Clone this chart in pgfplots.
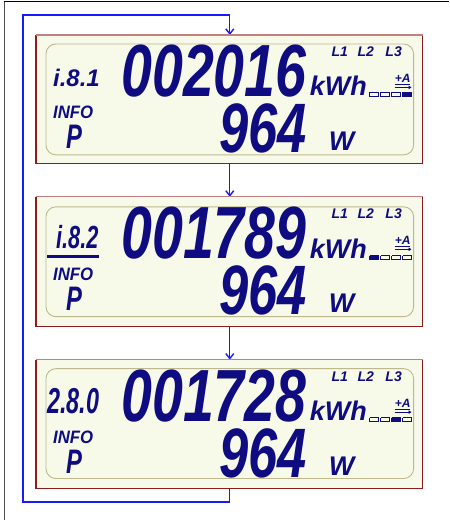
\documentclass[border=0pt]{standalone}
\usepackage{pgfplots}
\pgfplotsset{compat=1.18}
\usepackage{graphicx}
\usepackage{fontspec}
\setmainfont{Liberation Sans}
\usetikzlibrary{arrows.meta}
\definecolor{lcdbg}{RGB}{248,250,233}
\definecolor{lcdink}{RGB}{14,12,128}
\definecolor{loopblue}{RGB}{25,25,255}
\definecolor{boxred}{RGB}{140,28,28}
\definecolor{boxrose}{RGB}{196,128,128}
\definecolor{innerline}{RGB}{190,184,140}
\newcommand\lcd[2]{\fontsize{#1}{#1}\selectfont\bfseries\itshape #2}
\tikzset{ink/.style={anchor=base west,inner sep=0pt,text=lcdink}}
\begin{document}
\begin{tikzpicture}
\begin{axis}[width=449bp,height=520bp,scale only axis,
  xmin=0,xmax=449,ymin=0,ymax=520,y dir=reverse,hide axis,clip=false]
% extent
\addplot[draw=none] coordinates {(0,0) (449,520)};
% page frame
\addplot[black,line width=1bp] coordinates {(4,2) (449,2)};
\addplot[black!70,line width=1bp] coordinates {(4.5,2) (4.5,520)};
% blue loop
\addplot[loopblue,line width=1.4bp,line join=miter] coordinates {(230,489) (230,502.5) (23,502.5) (23,15) (230,15) (230,34)};
\addplot[loopblue,line width=1.4bp,-{Straight Barb[length=5bp,width=8bp]}] coordinates {(230,22) (230,35)};
\addplot[loopblue,line width=1.4bp,-{Straight Barb[length=5bp,width=8bp]}] coordinates {(230,164) (230,197)};
\addplot[loopblue,line width=1.4bp,-{Straight Barb[length=5bp,width=8bp]}] coordinates {(230,327) (230,360)};
% ===== boxes =====
\addplot[fill=lcdbg,draw=boxred,line width=1.2bp] coordinates {(36,35) (423,35) (423,164) (36,164) (36,35)};
\addplot[boxrose,line width=1.2bp] coordinates {(36,35) (423,35)};
\addplot[draw=innerline,line width=0.9bp,rounded corners=10bp] coordinates {(230,44) (414,44) (414,155) (46,155) (46,44) (230,44)};
\addplot[fill=lcdbg,draw=boxred,line width=1.2bp] coordinates {(36,197) (423,197) (423,327) (36,327) (36,197)};
\addplot[boxrose,line width=1.2bp] coordinates {(36,197) (423,197)};
\addplot[draw=innerline,line width=0.9bp,rounded corners=10bp] coordinates {(230,207) (414,207) (414,317) (46,317) (46,207) (230,207)};
\addplot[fill=lcdbg,draw=boxred,line width=1.2bp] coordinates {(36,360) (423,360) (423,489) (36,489) (36,360)};
\addplot[boxrose,line width=1.2bp] coordinates {(36,360) (423,360)};
\addplot[draw=innerline,line width=0.9bp,rounded corners=10bp] coordinates {(230,369) (414,369) (414,479) (46,479) (46,369) (230,369)};
% ===== segment indicators (squares) =====
% box 1: fourth filled
\addplot[draw=lcdink,line width=0.7bp] coordinates {(370,92.5) (379,92.5) (379,96.5) (370,96.5) (370,92.5)};
\addplot[draw=lcdink,line width=0.7bp] coordinates {(381,92.5) (390,92.5) (390,96.5) (381,96.5) (381,92.5)};
\addplot[draw=lcdink,line width=0.7bp] coordinates {(392,92.5) (401,92.5) (401,96.5) (392,96.5) (392,92.5)};
\addplot[draw=lcdink,fill=lcdink,line width=0.7bp] coordinates {(403,92.5) (412,92.5) (412,96.5) (403,96.5) (403,92.5)};
% box 2: first filled
\addplot[draw=lcdink,fill=lcdink,line width=0.7bp] coordinates {(370,256) (379,256) (379,260) (370,260) (370,256)};
\addplot[draw=lcdink,line width=0.7bp] coordinates {(381,256) (390,256) (390,260) (381,260) (381,256)};
\addplot[draw=lcdink,line width=0.7bp] coordinates {(392,256) (401,256) (401,260) (392,260) (392,256)};
\addplot[draw=lcdink,line width=0.7bp] coordinates {(403,256) (412,256) (412,260) (403,260) (403,256)};
% box 3: third filled
\addplot[draw=lcdink,line width=0.7bp] coordinates {(370,418) (379,418) (379,422) (370,422) (370,418)};
\addplot[draw=lcdink,line width=0.7bp] coordinates {(381,418) (390,418) (390,422) (381,422) (381,418)};
\addplot[draw=lcdink,fill=lcdink,line width=0.7bp] coordinates {(392,418) (401,418) (401,422) (392,422) (392,418)};
\addplot[draw=lcdink,line width=0.7bp] coordinates {(403,418) (412,418) (412,422) (403,422) (403,418)};
% +A underline and arrows
\addplot[lcdink,line width=1bp] coordinates {(395,84.5) (410,84.5)};
\addplot[lcdink,line width=1bp,-{Latex[length=3bp,width=4bp]}] coordinates {(395,87.5) (412,87.5)};
\addplot[lcdink,line width=1bp] coordinates {(395,246.5) (410,246.5)};
\addplot[lcdink,line width=1bp,-{Latex[length=3bp,width=4bp]}] coordinates {(395,249.5) (412,249.5)};
\addplot[lcdink,line width=1bp] coordinates {(395,409.5) (410,409.5)};
\addplot[lcdink,line width=1bp,-{Latex[length=3bp,width=4bp]}] coordinates {(395,412.5) (412,412.5)};
% box 2 underline of code
\addplot[lcdink,line width=3bp] coordinates {(47.5,256.5) (99,256.5)};

% ===== texts box 1 =====
\node[ink] at (axis cs:53,87) {\lcd{24bp}{i.8.1}};
\node[ink,anchor=base east] at (axis cs:307,97) {\scalebox{0.75}[1]{\lcd{74bp}{002016}}};
\node[ink] at (axis cs:310,95.5) {\lcd{27bp}{kWh}};
\node[ink,anchor=base] at (axis cs:340,57) {\lcd{14bp}{L1}};
\node[ink,anchor=base] at (axis cs:366,57) {\lcd{14bp}{L2}};
\node[ink,anchor=base] at (axis cs:394,57) {\lcd{14bp}{L3}};
\node[ink,anchor=base] at (axis cs:403,83) {\lcd{12bp}{+A}};
\node[ink] at (axis cs:53,119) {\scalebox{0.93}[1]{\lcd{18bp}{INFO}}};
\node[ink] at (axis cs:66,149) {\scalebox{0.7}[1]{\lcd{34bp}{P}}};
\node[ink,anchor=base east] at (axis cs:307,153) {\scalebox{0.75}[1]{\lcd{70bp}{964}}};
\node[ink] at (axis cs:329,151) {\lcd{27bp}{W}};
% ===== texts box 2 =====
\node[ink] at (axis cs:56,249) {\scalebox{0.68}[1]{\lcd{32bp}{i.8.2}}};
\node[ink,anchor=base east] at (axis cs:307,259) {\scalebox{0.75}[1]{\lcd{74bp}{001789}}};
\node[ink] at (axis cs:310,258.5) {\lcd{27bp}{kWh}};
\node[ink,anchor=base] at (axis cs:340,219) {\lcd{14bp}{L1}};
\node[ink,anchor=base] at (axis cs:366,219) {\lcd{14bp}{L2}};
\node[ink,anchor=base] at (axis cs:394,219) {\lcd{14bp}{L3}};
\node[ink,anchor=base] at (axis cs:403,245) {\lcd{12bp}{+A}};
\node[ink] at (axis cs:53,281) {\scalebox{0.93}[1]{\lcd{18bp}{INFO}}};
\node[ink] at (axis cs:66,311) {\scalebox{0.7}[1]{\lcd{34bp}{P}}};
\node[ink,anchor=base east] at (axis cs:307,315) {\scalebox{0.75}[1]{\lcd{70bp}{964}}};
\node[ink] at (axis cs:329,313) {\lcd{27bp}{W}};
% ===== texts box 3 =====
\node[ink] at (axis cs:47,414) {\scalebox{0.65}[1]{\lcd{36bp}{2.8.0}}};
\node[ink,anchor=base east] at (axis cs:307,422) {\scalebox{0.75}[1]{\lcd{74bp}{001728}}};
\node[ink] at (axis cs:310,421) {\lcd{27bp}{kWh}};
\node[ink,anchor=base] at (axis cs:340,382) {\lcd{14bp}{L1}};
\node[ink,anchor=base] at (axis cs:366,382) {\lcd{14bp}{L2}};
\node[ink,anchor=base] at (axis cs:394,382) {\lcd{14bp}{L3}};
\node[ink,anchor=base] at (axis cs:403,408) {\lcd{12bp}{+A}};
\node[ink] at (axis cs:53,444) {\scalebox{0.93}[1]{\lcd{18bp}{INFO}}};
\node[ink] at (axis cs:66,474) {\scalebox{0.7}[1]{\lcd{34bp}{P}}};
\node[ink,anchor=base east] at (axis cs:307,478) {\scalebox{0.75}[1]{\lcd{70bp}{964}}};
\node[ink] at (axis cs:329,476) {\lcd{27bp}{W}};
\end{axis}
\end{tikzpicture}
\end{document}
